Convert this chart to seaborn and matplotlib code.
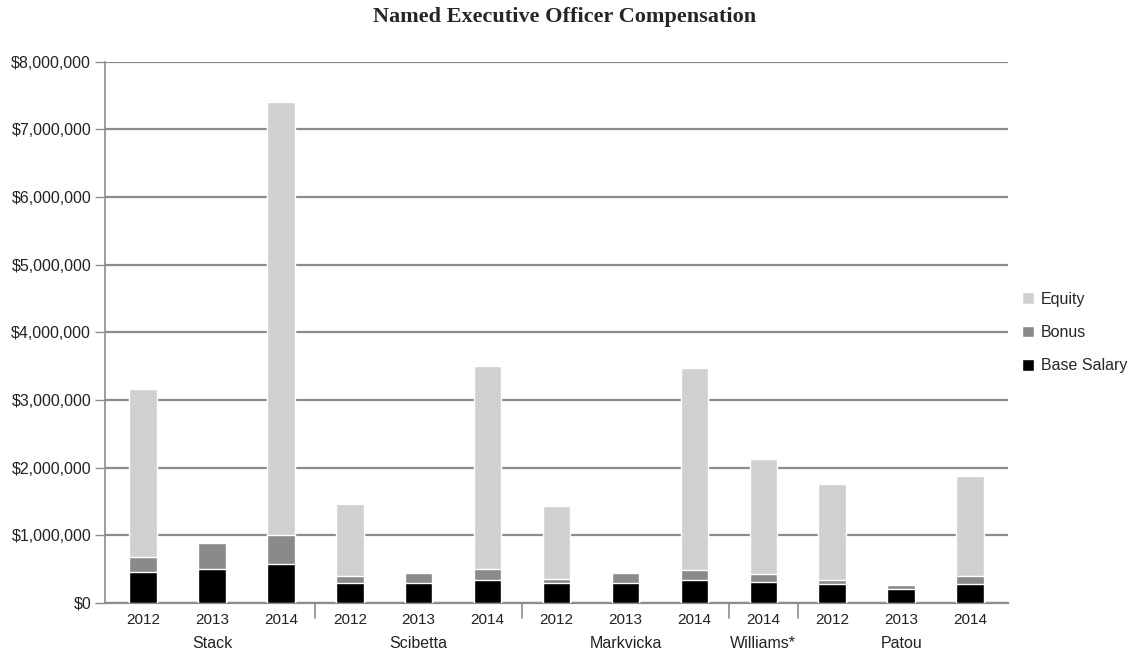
import numpy as np
import pandas as pd
import seaborn as sns
import matplotlib.pyplot as plt
from matplotlib.patches import Patch
from matplotlib.ticker import FuncFormatter
import matplotlib.transforms as mtransforms

# ── Data ──────────────────────────────────────────────────────────────────────
officers = ["Stack", "Stack", "Stack", "Scibetta", "Scibetta", "Scibetta",
            "Markvicka", "Markvicka", "Markvicka", "Williams*",
            "Patou", "Patou", "Patou"]
years    = ["2012", "2013", "2014", "2012", "2013", "2014",
            "2012", "2013", "2014", "2014",
            "2012", "2013", "2014"]
base_salary = [450000, 500000, 570000, 290000, 290000, 340000,
               300000, 300000, 340000, 310000, 275000, 210000, 280000]
bonus       = [225000, 390000, 440000, 100000, 145000, 160000,
               60000, 140000, 150000, 120000, 70000, 60000, 110000]
equity      = [2485000, 0, 6390000, 1070000, 0, 3000000,
               1065000, 0, 2980000, 1700000, 1405000, 10000, 1480000]

group_names = ["Stack", "Scibetta", "Markvicka", "Williams*", "Patou"]

c_equity, c_bonus, c_base = "#d0d0d0", "#8a8a8a", "#000000"

df = pd.DataFrame({"officer": officers, "year": years,
                   "base": base_salary, "bonus": bonus, "equity": equity})
df["slot"] = [f"{o}-{y}" for o, y in zip(officers, years)]
df["base_bonus"] = df["base"] + df["bonus"]
df["total"] = df["base_bonus"] + df["equity"]
order = list(df["slot"])

# ── Plot ──────────────────────────────────────────────────────────────────────
sns.set_style("white")
plt.rcParams["font.family"] = ["Liberation Sans", "DejaVu Sans"]

fig = plt.figure(figsize=(11.3, 6.56), dpi=100)
ax = fig.add_axes([0.093, 0.081, 0.799, 0.825])

# stacked bars by layering cumulative totals
for col, c in [("total", c_equity), ("base_bonus", c_bonus), ("base", c_base)]:
    sns.barplot(data=df, x="slot", y=col, order=order, color=c,
                width=0.4, saturation=1, errorbar=None, ax=ax, zorder=3)

ax.set_ylim(0, 8000000)
ax.set_xlim(-0.55, len(order) - 0.45)
ax.set_yticks(np.arange(0, 8000001, 1000000))
ax.yaxis.set_major_formatter(FuncFormatter(lambda v, p: f"${v:,.0f}"))
ax.grid(axis="y", color="#8c8c8c", linewidth=1.6, zorder=0)
ax.set_axisbelow(True)

for s in ["top", "right"]:
    ax.spines[s].set_visible(False)
ax.spines["left"].set_color("#8c8c8c")
ax.spines["left"].set_linewidth(1.2)
ax.spines["bottom"].set_color("#8c8c8c")
ax.spines["bottom"].set_linewidth(1.6)

ax.set_xticks(range(len(order)))
ax.set_xticklabels(years)
ax.tick_params(axis="x", length=0, pad=7, labelsize=11, labelcolor="#222222")
ax.tick_params(axis="y", length=7, width=1, color="#8c8c8c", pad=3,
               labelsize=11.5, labelcolor="#222222", left=True)
ax.set_xlabel("")
ax.set_ylabel("")

# group separators and names below the axis
trans = mtransforms.blended_transform_factory(ax.transData, ax.transAxes)
sizes = [officers.count(g) for g in group_names]
start = 0
for i, (g, n) in enumerate(zip(group_names, sizes)):
    center = start + (n - 1) / 2
    ax.text(center, -0.076, g, transform=trans, ha="center", va="center",
            fontsize=11.5, color="#222222")
    if i < len(group_names) - 1:
        xs = start + n - 0.5
        ax.plot([xs, xs], [0, -0.028], transform=trans, color="#8c8c8c",
                linewidth=1.2, clip_on=False)
    start += n

fig.suptitle("Named Executive Officer Compensation", x=0.5, y=0.99,
             fontsize=16, fontweight="bold", family="Liberation Serif")

handles = [Patch(facecolor=c_equity, label="Equity"),
           Patch(facecolor=c_bonus, label="Bonus"),
           Patch(facecolor=c_base, label="Base Salary")]
fig.legend(handles=handles, loc="center left", bbox_to_anchor=(0.892, 0.493),
           frameon=False, fontsize=11.5, handlelength=0.75, handleheight=0.75,
           handletextpad=0.4, labelspacing=1.15)

fig.savefig("out.png", dpi=100)
